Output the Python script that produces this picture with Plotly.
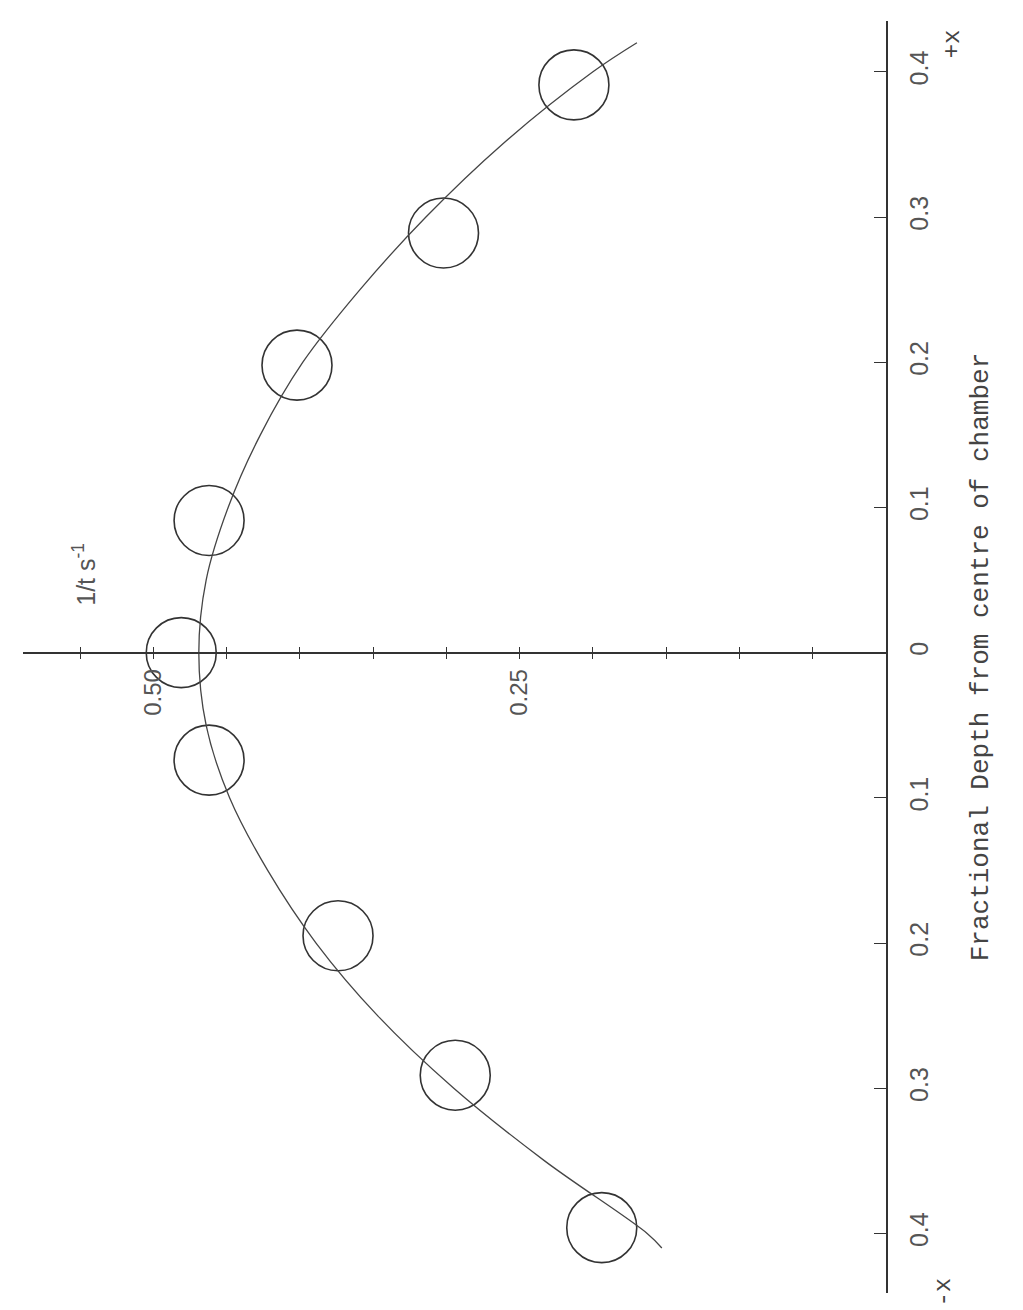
import plotly.graph_objects as go

# measured points (circles): 1/t in s^-1 against fractional depth
rate_pts = [0.213, 0.302, 0.402, 0.462, 0.481, 0.462, 0.374, 0.294, 0.194]
depth_pts = [0.391, 0.289, 0.198, 0.091, 0.0, -0.074, -0.195, -0.291, -0.396]

# fitted curve as drawn on the original
curve_depth = [0.42, 0.40, 0.35, 0.30, 0.25, 0.20, 0.15, 0.10, 0.05, 0.0,
               -0.05, -0.10, -0.15, -0.20, -0.25, -0.30, -0.35, -0.40, -0.41]
curve_rate = [0.170, 0.200, 0.262, 0.314, 0.359, 0.398, 0.427, 0.449, 0.464, 0.469,
              0.464, 0.448, 0.422, 0.389, 0.347, 0.295, 0.233, 0.163, 0.153]

depth_ticks = [0.4, 0.3, 0.2, 0.1, 0.0, -0.1, -0.2, -0.3, -0.4]
depth_labels = ["0.4", "0.3", "0.2", "0.1", "0", "0.1", "0.2", "0.3", "0.4"]
rate_ticks = [0.05, 0.10, 0.15, 0.20, 0.25, 0.30, 0.35, 0.40, 0.45, 0.50, 0.55]
rate_labels = ["", "", "", "", "0.25", "", "", "", "", "0.50", ""]

RATE_RANGE = [0.589, 0.0]
DEPTH_RANGE = [-0.441, 0.435]
INK = "#333333"
MONO = "Liberation Mono"
SANS = "Liberation Sans"

# where depth = 0 sits on the paper
axis_pos = (0 - DEPTH_RANGE[0]) / (DEPTH_RANGE[1] - DEPTH_RANGE[0])

fig = go.Figure()
fig.add_trace(go.Scatter(
    x=curve_rate, y=curve_depth, mode="lines", line_shape="spline",
    line=dict(color="#454545", width=1.3), xaxis="x2", yaxis="y",
    hoverinfo="skip", showlegend=False,
))
fig.add_trace(go.Scatter(
    x=rate_pts, y=depth_pts, mode="markers",
    marker=dict(symbol="circle-open", size=70, color=INK, line=dict(width=1.6, color=INK)),
    showlegend=False,
))

fig.update_layout(
    width=1023, height=1310,
    margin=dict(l=15, r=145, t=13, b=25),
    paper_bgcolor="white", plot_bgcolor="white",
    xaxis=dict(
        range=RATE_RANGE, anchor="free", position=axis_pos,
        showline=True, linecolor=INK, linewidth=1.6,
        showgrid=False, zeroline=False,
        ticks="outside", ticklen=6, tickwidth=1.3, tickcolor=INK,
        tickvals=rate_ticks, ticktext=rate_labels, tickangle=-90,
        tickfont=dict(family=SANS, size=24, color="#555555"),
    ),
    xaxis2=dict(
        range=RATE_RANGE, anchor="free", position=axis_pos, overlaying="x",
        showline=False, showgrid=False, zeroline=False,
        ticks="inside", ticklen=6, tickwidth=1.3, tickcolor=INK,
        tickvals=rate_ticks, showticklabels=False,
    ),
    yaxis=dict(
        range=DEPTH_RANGE, side="right", anchor="x",
        showline=True, linecolor=INK, linewidth=1.6,
        showgrid=False, zeroline=False,
        ticks="inside", ticklen=12, tickwidth=1.3, tickcolor=INK,
        tickvals=depth_ticks, ticktext=depth_labels, tickangle=-90,
        ticklabelstandoff=10,
        tickfont=dict(family=SANS, size=25, color="#555555"),
        title=dict(text="Fractional Depth from centre of chamber", standoff=38,
                   font=dict(family=MONO, size=26, color="#444444")),
    ),
)

fig.add_annotation(x=0.547, y=0.054, xref="x", yref="y",
                   text="1/t s<sup>-1</sup>", textangle=-90, showarrow=False,
                   font=dict(family=SANS, size=25, color="#555555"))
fig.add_annotation(x=1.095, y=0.995, xref="paper", yref="paper",
                   text="+x", textangle=-90, showarrow=False,
                   font=dict(family=MONO, size=24, color="#444444"))
fig.add_annotation(x=1.085, y=-0.012, xref="paper", yref="paper",
                   text="-x", textangle=-90, showarrow=False,
                   font=dict(family=MONO, size=24, color="#444444"))

fig.write_html("out.html")
